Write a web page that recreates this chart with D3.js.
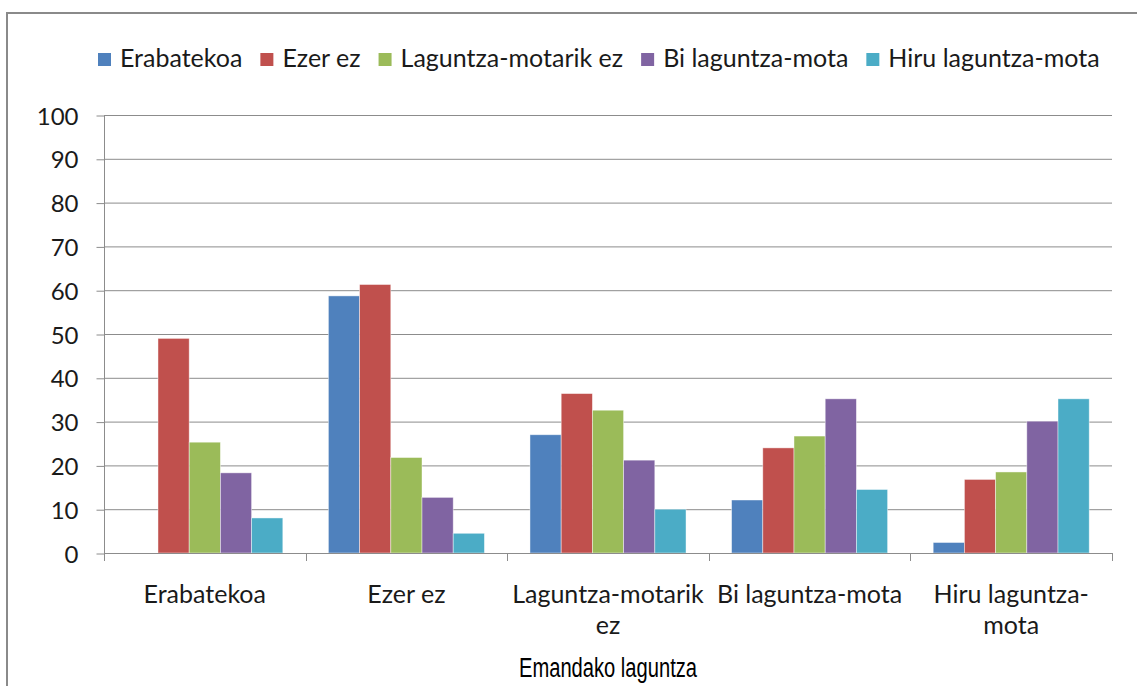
<!DOCTYPE html>
<html>
<head>
<meta charset="utf-8">
<script src="https://cdn.jsdelivr.net/npm/d3@7/dist/d3.min.js"></script>
<style>
  html, body { margin: 0; padding: 0; background: #ffffff; }
  svg { display: block; }
</style>
</head>
<body>
<script>
// ---- data ----
const categories = ["Erabatekoa", "Ezer ez", "Laguntza-motarik ez", "Bi laguntza-mota", "Hiru laguntza-mota"];
const categoryLabelLines = [["Erabatekoa"], ["Ezer ez"], ["Laguntza-motarik", "ez"], ["Bi laguntza-mota"], ["Hiru laguntza-", "mota"]];
const seriesNames = ["Erabatekoa", "Ezer ez", "Laguntza-motarik ez", "Bi laguntza-mota", "Hiru laguntza-mota"];
const seriesColors = ["#4F81BD", "#C0504D", "#9BBB59", "#8064A2", "#4BACC6"];
const erabatekoa      = [0,    58.7, 27.0, 12.1, 2.4];
const ezerEz          = [49.0, 61.3, 36.4, 24.0, 16.8];
const laguntzaMotarik = [25.3, 21.8, 32.6, 26.7, 18.5];
const biLaguntza      = [18.3, 12.7, 21.2, 35.2, 30.1];
const hiruLaguntza    = [8.0,  4.5,  10.0, 14.5, 35.2];
const seriesValues = [erabatekoa, ezerEz, laguntzaMotarik, biLaguntza, hiruLaguntza];
const yTicks = [0, 10, 20, 30, 40, 50, 60, 70, 80, 90, 100];
const xTitle = "Emandako laguntza";

// ---- layout ----
const W = 1137, H = 686;
const plot = { left: 104, right: 1112, top: 115, bottom: 553 };
const labelFont = "Lato, 'Open Sans', sans-serif";
const labelSize = 25;
const tickSize = 24;
const gridColor = "#8c8c8c";
const textColor = "#1a1a1a";

const svg = d3.select("body").append("svg").attr("width", W).attr("height", H);

// outer chart border
svg.append("rect")
  .attr("x", 7).attr("y", 13)
  .attr("width", 1140).attr("height", 700)
  .attr("fill", "#ffffff")
  .attr("stroke", "#8a8a8a").attr("stroke-width", 2);

const x0 = d3.scaleBand().domain(categories).range([plot.left, plot.right]).paddingInner(0).paddingOuter(0);
const x1 = d3.scaleBand().domain(seriesNames).range([0, x0.bandwidth()]).paddingInner(0).paddingOuter(0.73);
const y = d3.scaleLinear().domain([0, 100]).range([plot.bottom, plot.top]);

// gridlines
svg.append("g").selectAll("line").data(yTicks.filter(d => d > 0)).join("line")
  .attr("x1", plot.left).attr("x2", plot.right)
  .attr("y1", d => y(d) + 0.5).attr("y2", d => y(d) + 0.5)
  .attr("stroke", gridColor).attr("stroke-width", 1);

// y axis
const yAxis = d3.axisLeft(y).tickValues(yTicks).tickSize(8).tickPadding(18).tickFormat(d3.format("d"));
const gy = svg.append("g").attr("transform", `translate(${plot.left + 0.5},0.5)`).call(yAxis);
gy.select(".domain").attr("stroke", gridColor).attr("d", `M0,${plot.top}V${plot.bottom}`);
gy.selectAll(".tick line").attr("stroke", gridColor);
gy.selectAll(".tick text")
  .attr("font-family", labelFont).attr("font-size", tickSize).attr("fill", textColor)
  .attr("dy", "0.36em");

// bars
const groups = svg.append("g").selectAll("g").data(categories).join("g")
  .attr("transform", d => `translate(${x0(d)},0)`);
groups.selectAll("rect")
  .data((c, ci) => seriesNames.map((s, si) => ({ s, si, v: seriesValues[si][ci] })))
  .join("rect")
  .filter(d => d.v > 0)
  .attr("x", d => x1(d.s))
  .attr("width", x1.bandwidth())
  .attr("y", d => y(d.v))
  .attr("height", d => y(0) - y(d.v))
  .attr("fill", d => seriesColors[d.si])
  .attr("stroke", "rgba(255,255,255,0.55)")
  .attr("stroke-width", 0.8);

// x axis
const bounds = categories.map(c => x0(c)).concat([plot.right]);
const gx = svg.append("g");
gx.append("line")
  .attr("x1", plot.left).attr("x2", plot.right)
  .attr("y1", plot.bottom + 0.5).attr("y2", plot.bottom + 0.5)
  .attr("stroke", gridColor);
gx.selectAll("line.tk").data(bounds).join("line").attr("class", "tk")
  .attr("x1", d => Math.round(d) + 0.5).attr("x2", d => Math.round(d) + 0.5)
  .attr("y1", plot.bottom).attr("y2", plot.bottom + 8)
  .attr("stroke", gridColor);

// category labels
const lbl = svg.append("g").selectAll("text").data(categories).join("text")
  .attr("x", d => x0(d) + x0.bandwidth() / 2)
  .attr("y", 603)
  .attr("text-anchor", "middle")
  .attr("font-family", labelFont).attr("font-size", labelSize).attr("fill", textColor);
lbl.selectAll("tspan").data((d, i) => categoryLabelLines[i]).join("tspan")
  .attr("x", function() { return d3.select(this.parentNode).attr("x"); })
  .attr("dy", (d, i) => i === 0 ? 0 : 31)
  .text(d => d);

// axis title
svg.append("text")
  .attr("transform", `translate(${(plot.left + plot.right) / 2},677) scale(0.72,1)`)
  .attr("text-anchor", "middle")
  .attr("font-family", "'Liberation Sans', Arial, sans-serif").attr("font-size", 28).attr("fill", "#000")
  .text(xTitle);

// legend
const legend = svg.append("g");
let lx = 98;
seriesNames.forEach((name, i) => {
  legend.append("rect")
    .attr("x", lx).attr("y", 53).attr("width", 13).attr("height", 13)
    .attr("fill", seriesColors[i]);
  const t = legend.append("text")
    .attr("x", lx + 22).attr("y", 67)
    .attr("font-family", labelFont).attr("font-size", labelSize).attr("fill", textColor)
    .text(name);
  lx = lx + 22 + t.node().getComputedTextLength() + 18;
});
</script>
</body>
</html>
